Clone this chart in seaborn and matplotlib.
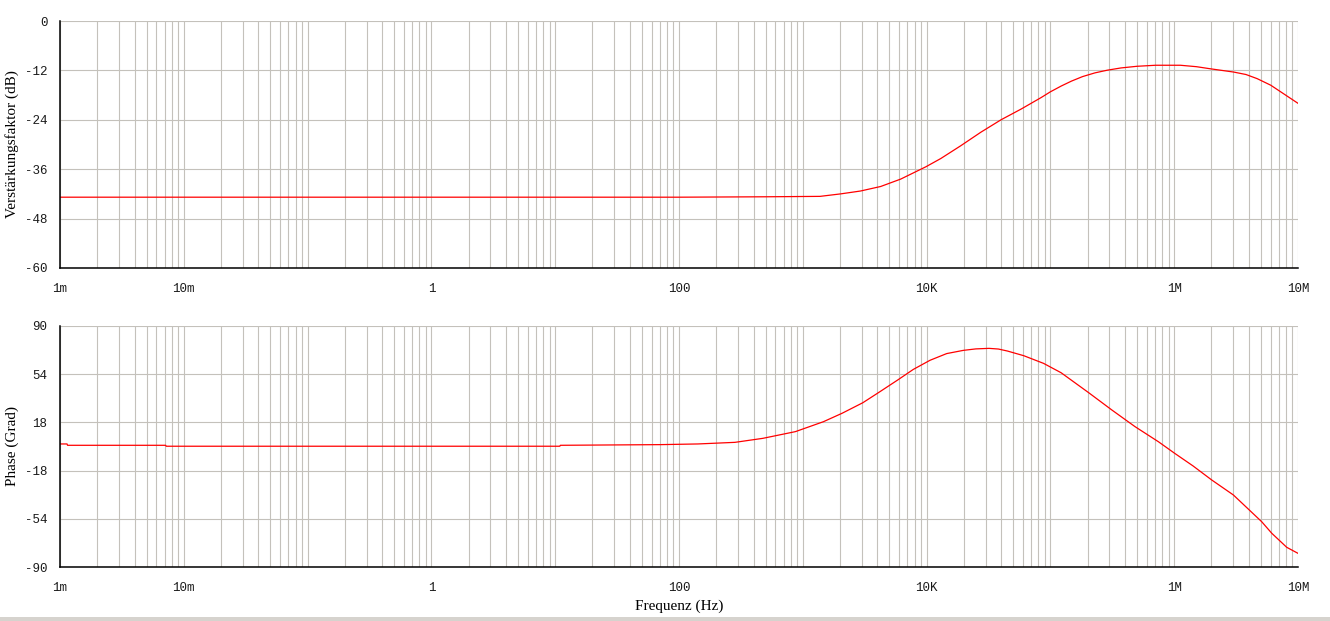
import numpy as np
import pandas as pd
import matplotlib
matplotlib.use("Agg")
import matplotlib.pyplot as plt
import matplotlib.ticker as mticker
from matplotlib.patches import Rectangle
import seaborn as sns

# ---- data ----
gain_freq = [0.001, 100, 500, 1377, 2018, 2924, 4256, 6180, 9886, 13030, 18880,
             27480, 39900, 57940, 84140, 100000, 122200, 148000, 182000, 229000,
             288000, 372000, 501000, 708000, 1122000, 1514000, 1950000, 3020000,
             3800000, 4677000, 6026000, 7586000, 10000000]
gain_db = [-42.8, -42.8, -42.7, -42.6, -42.0, -41.3, -40.2, -38.4, -35.4, -33.4, -30.3,
           -27.0, -24.0, -21.4, -18.6, -17.2, -15.8, -14.6, -13.5, -12.6,
           -11.95, -11.4, -11.0, -10.75, -10.75, -11.1, -11.6, -12.4,
           -13.0, -14.0, -15.6, -17.6, -20.0]

phase_freq = [0.001, 0.00114, 0.00115, 0.00714, 0.0072, 10.9, 11, 71, 142, 283, 476, 871,
              1466, 2075, 3055, 4207, 5848, 7816, 10660, 14530, 19810, 25000, 31920,
              38000, 45000, 61000, 88000, 122000, 203700, 313300, 483100, 744700,
              1009000, 1419000, 2009000, 3006000, 4093000, 5093000, 6138000,
              8110000, 10000000]
phase_deg = [1.9, 1.9, 0.9, 0.9, 0.2, 0.2, 0.9, 1.4, 1.9, 3.1, 6.1, 11.1,
             18.5, 24.8, 32.7, 41.0, 49.7, 57.6, 64.4, 69.4, 71.8, 72.9, 73.3,
             72.8, 71.3, 67.8, 62.1, 55.1, 40.2, 27.3, 14.8, 3.6,
             -5.1, -14.5, -25.0, -36.2, -47.9, -56.2, -64.8,
             -75.3, -79.8]

xtick_pos = [1e-3, 1e-2, 1, 1e2, 1e4, 1e6, 1e7]
xtick_lab = ["1m", "10m", "1", "100", "10K", "1M", "10M"]
gain_ticks = [0, -12, -24, -36, -48, -60]
phase_ticks = [90, 54, 18, -18, -54, -90]

sns.set_style("white")
plt.rcParams["font.family"] = ["Liberation Serif", "DejaVu Serif"]

W, H = 1330, 621
fig = plt.figure(figsize=(W / 100, H / 100), dpi=100)
fig.patch.set_facecolor("white")

def frac_axes(left, top, right, bottom):
    return fig.add_axes([left / W, 1 - bottom / H, (right - left) / W, (bottom - top) / H])

ax1 = frac_axes(60, 21, 1298, 268)
ax2 = frac_axes(60, 326, 1298, 567)

df_g = pd.DataFrame({"f": gain_freq, "v": gain_db})
df_p = pd.DataFrame({"f": phase_freq, "v": phase_deg})

grid_c = "#c4c1bb"
mono = ["Liberation Mono", "DejaVu Sans Mono"]

for ax, df, yt, ylab in [(ax1, df_g, gain_ticks, "Verstärkungsfaktor (dB)"),
                         (ax2, df_p, phase_ticks, "Phase (Grad)")]:
    sns.lineplot(data=df, x="f", y="v", ax=ax, color="#ff0000", linewidth=0.9,
                 estimator=None, sort=False, zorder=3)
    ax.set_xscale("log")
    ax.set_xlim(1e-3, 1e7)
    ax.set_ylim(min(yt), max(yt))
    ax.xaxis.set_major_locator(mticker.FixedLocator(xtick_pos))
    ax.xaxis.set_major_formatter(mticker.FixedFormatter(xtick_lab))
    ax.xaxis.set_minor_locator(mticker.LogLocator(base=10, subs=np.arange(1, 10), numticks=100))
    ax.xaxis.set_minor_formatter(mticker.NullFormatter())
    ax.set_yticks(yt)
    ax.set_yticklabels([str(t) for t in yt])
    ax.grid(True, which="both", axis="x", color=grid_c, linewidth=0.8, zorder=0)
    ax.grid(True, which="major", axis="y", color=grid_c, linewidth=0.8, zorder=0)
    ax.set_axisbelow(True)
    for s in ["top", "right"]:
        ax.spines[s].set_visible(False)
    for s in ["left", "bottom"]:
        ax.spines[s].set_visible(True)
        ax.spines[s].set_color("black")
        ax.spines[s].set_linewidth(1.1)
        ax.spines[s].set_zorder(4)
    ax.tick_params(axis="both", which="major", direction="out", length=3, width=1,
                   color="black", labelcolor="#1a1a1a", labelsize=9)
    ax.tick_params(axis="x", which="major", pad=8)
    ax.tick_params(axis="y", which="major", pad=6)
    ax.tick_params(axis="x", which="minor", length=0)
    for lab in ax.get_xticklabels() + ax.get_yticklabels():
        lab.set_fontfamily(mono)
    ax.set_xlabel("")
    ax.set_ylabel(ylab, fontsize=11, color="black")
    ax.yaxis.set_label_coords(-0.033, 0.5)

ax2.set_xlabel("Frequenz (Hz)", fontsize=11, color="black")
ax2.xaxis.set_label_coords(0.5, -0.135)

fig.patches.append(Rectangle((0, 0), 1, 4 / H, transform=fig.transFigure,
                             facecolor="#d6d3ce", edgecolor="none", zorder=0))

fig.savefig("out.png", dpi=100)
